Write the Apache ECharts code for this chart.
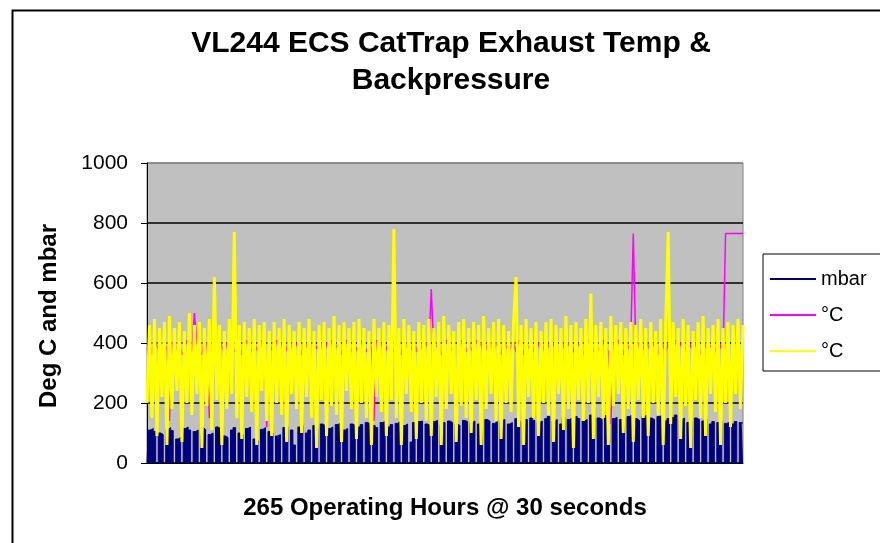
<!DOCTYPE html>
<html>
<head>
<meta charset="utf-8">
<script src="https://cdn.jsdelivr.net/npm/echarts@6/dist/echarts.min.js"></script>
<style>
  html, body { margin: 0; padding: 0; background: #fff; }
  #chart { width: 880px; height: 543px; }
</style>
</head>
<body>
<div id="chart"></div>
<script>
// backpressure, mbar (one value per sample)
const mbar = [
  0, 110, 115, 105, 0, 100, 95, 0, 112, 118,
  108, 0, 80, 85, 0, 115, 120, 110, 0, 105,
  110, 0, 118, 112, 0, 95, 100, 0, 120, 115,
  0, 90, 85, 0, 110, 118, 0, 100, 95, 0,
  115, 120, 0, 80, 75, 0, 112, 118, 0, 105,
  100, 0, 90, 95, 0, 118, 122, 0, 110, 60,
  0, 120, 125, 0, 100, 110, 0, 125, 118, 0,
  130, 125, 0, 115, 120, 0, 128, 132, 0, 110,
  115, 0, 130, 125, 0, 120, 128, 0, 135, 130,
  0, 125, 118, 0, 135, 138, 0, 120, 128, 0,
  132, 138, 0, 125, 130, 0, 70, 135, 0, 138,
  140, 0, 130, 125, 0, 138, 142, 0, 128, 135,
  0, 140, 135, 0, 130, 125, 0, 142, 138, 0,
  135, 140, 0, 130, 125, 0, 145, 140, 0, 132,
  138, 0, 142, 145, 0, 130, 135, 0, 148, 140,
  0, 138, 145, 0, 150, 142, 0, 135, 140, 0,
  148, 155, 0, 140, 145, 0, 130, 152, 0, 145,
  150, 0, 155, 148, 0, 140, 145, 0, 160, 155,
  0, 150, 145, 0, 158, 162, 0, 148, 152, 0,
  145, 150, 0, 155, 160, 0, 148, 142, 0, 155,
  160, 0, 150, 145, 0, 155, 158, 0, 140, 148,
  0, 152, 160, 0, 145, 150, 0, 135, 140, 0,
  150, 145, 0, 140, 148, 0, 130, 138, 0, 135,
  140, 0, 132, 135, 0, 130, 138, 0, 135, 132
];

// first temperature channel (magenta)
const tempA = [
  380, 400, 360, 410, 390, 370, 350, 400, 380, 140,
  390, 410, 370, 400, 360, 380, 410, 390, 370, 500,
  400, 380, 360, 410, 390, 150, 380, 400, 370, 410,
  390, 360, 400, 380, 410, 370, 390, 400, 360, 380,
  410, 390, 370, 400, 380, 360, 410, 390, 120, 400,
  380, 370, 410, 390, 400, 360, 380, 410, 390, 370,
  400, 380, 360, 410, 390, 370, 160, 400, 380, 410,
  390, 360, 400, 380, 410, 370, 390, 400, 360, 380,
  410, 390, 370, 400, 380, 360, 410, 390, 370, 400,
  380, 140, 410, 390, 400, 360, 380, 410, 390, 370,
  400, 380, 360, 410, 390, 370, 380, 400, 370, 410,
  390, 360, 400, 380, 580, 370, 390, 400, 360, 380,
  410, 390, 370, 400, 150, 360, 410, 390, 370, 400,
  380, 370, 410, 390, 400, 360, 380, 410, 390, 370,
  400, 380, 360, 410, 390, 370, 390, 400, 370, 410,
  390, 360, 400, 380, 410, 370, 390, 400, 360, 380,
  410, 390, 370, 400, 380, 360, 410, 390, 370, 400,
  380, 370, 410, 390, 400, 360, 380, 410, 390, 370,
  400, 380, 360, 410, 390, 370, 130, 400, 370, 410,
  390, 360, 400, 380, 410, 765, 390, 400, 360, 380,
  410, 390, 370, 400, 380, 360, 410, 390, 370, 400,
  380, 370, 410, 390, 400, 360, 380, 410, 390, 370,
  400, 380, 360, 410, 390, 370, 390, 400, 370, 410,
  390, 360, 765, 765, 765, 765, 765, 765, 765, 765
];

// second temperature channel (yellow)
const tempB = [
  200, 460, 150, 480, 90, 450, 220, 470, 60, 490,
  180, 450, 240, 470, 70, 440, 200, 500, 160, 460,
  230, 470, 50, 450, 190, 480, 110, 620, 210, 460,
  60, 440, 180, 480, 230, 770, 150, 460, 80, 470,
  220, 450, 170, 480, 60, 460, 240, 470, 140, 440,
  90, 470, 200, 450, 160, 480, 70, 460, 230, 440,
  180, 470, 100, 450, 220, 480, 150, 440, 50, 460,
  210, 470, 90, 450, 190, 490, 160, 460, 70, 470,
  240, 450, 180, 470, 80, 480, 200, 450, 150, 440,
  60, 480, 220, 450, 170, 470, 90, 460, 210, 780,
  150, 450, 60, 480, 230, 460, 170, 440, 80, 470,
  200, 460, 140, 480, 90, 450, 220, 470, 60, 490,
  180, 460, 230, 440, 70, 470, 190, 480, 150, 450,
  100, 470, 210, 460, 60, 490, 180, 450, 230, 470,
  140, 480, 80, 460, 200, 440, 170, 470, 620, 120,
  460, 60, 480, 220, 450, 150, 470, 90, 440, 200,
  470, 160, 480, 70, 460, 230, 450, 110, 490, 180,
  460, 50, 470, 210, 450, 140, 480, 200, 565, 80,
  460, 220, 470, 150, 450, 60, 490, 190, 460, 230,
  470, 100, 450, 180, 470, 70, 460, 210, 480, 150,
  450, 90, 470, 200, 440, 160, 480, 60, 460, 770,
  130, 470, 220, 450, 80, 480, 190, 460, 50, 440,
  210, 470, 150, 490, 90, 450, 230, 460, 170, 480,
  60, 450, 200, 470, 120, 460, 230, 480, 180, 460
];

const seriesNames = ["mbar", "°C", "°C "];
const yTicks = [0, 200, 400, 600, 800, 1000];
const samples = mbar.map((_, i) => i);

const FONT = "Liberation Sans";
const chart = echarts.init(document.getElementById("chart"));

chart.setOption({
  animation: false,
  backgroundColor: "#fff",
  graphic: [{
    type: "rect", left: 10, top: 8, silent: true,
    shape: { width: 900, height: 600 },
    style: { fill: "none", stroke: "#000", lineWidth: 2 }
  }],
  title: {
    text: "VL244 ECS CatTrap Exhaust Temp &\nBackpressure",
    left: 446, top: 20, textAlign: "center",
    textStyle: { fontFamily: FONT, fontSize: 30, fontWeight: "bold", color: "#000", lineHeight: 37 }
  },
  legend: {
    orient: "vertical", left: 763, top: 254,
    data: seriesNames,
    icon: "rect", itemWidth: 46, itemHeight: 2, itemGap: 14,
    padding: [14, 30, 9, 7],
    backgroundColor: "#fff", borderColor: "#000", borderWidth: 1,
    formatter: n => n.trim(),
    textStyle: { fontFamily: FONT, fontSize: 20, color: "#000", lineHeight: 22 }
  },
  grid: {
    left: 147, right: 137, top: 163, bottom: 80,
    show: true, backgroundColor: "#c0c0c0", borderColor: "#808080", borderWidth: 1
  },
  xAxis: {
    type: "category", data: samples, boundaryGap: false,
    name: "265 Operating Hours @ 30 seconds",
    nameLocation: "middle", nameGap: 33,
    nameTextStyle: { fontFamily: FONT, fontSize: 24, fontWeight: "bold", color: "#000" },
    axisLine: { lineStyle: { color: "#000", width: 1 } },
    axisTick: { show: false }, axisLabel: { show: false }, splitLine: { show: false }
  },
  yAxis: {
    type: "value", min: yTicks[0], max: yTicks[yTicks.length - 1], interval: 200,
    name: "Deg C and mbar", nameLocation: "middle", nameGap: 86, nameRotate: 90,
    nameTextStyle: { fontFamily: FONT, fontSize: 24, fontWeight: "bold", color: "#000", padding: [0, 6, 0, 0] },
    axisLine: { show: true, lineStyle: { color: "#000", width: 1 } },
    axisTick: { show: true, inside: false, length: 6, lineStyle: { color: "#000" } },
    axisLabel: { fontFamily: FONT, fontSize: 21, color: "#000", margin: 19, formatter: v => String(v) },
    splitLine: { show: true, lineStyle: { color: ["#000", "#000", "#000", "#000", "#000", "#808080"], width: 1.5 } }
  },
  series: [
    {
      name: seriesNames[0], type: "line", data: mbar, step: "middle",
      showSymbol: false, color: "#000080",
      lineStyle: { color: "#000080", width: 1 },
      areaStyle: { color: "#000080", opacity: 1 }
    },
    {
      name: seriesNames[1], type: "line", data: tempA,
      showSymbol: false, color: "#ff00ff",
      lineStyle: { color: "#ff00ff", width: 1.5 }
    },
    {
      name: seriesNames[2], type: "line", data: tempB,
      showSymbol: false, color: "#ffff00",
      lineStyle: { color: "#ffff00", width: 3 }
    }
  ]
});
</script>
</body>
</html>
